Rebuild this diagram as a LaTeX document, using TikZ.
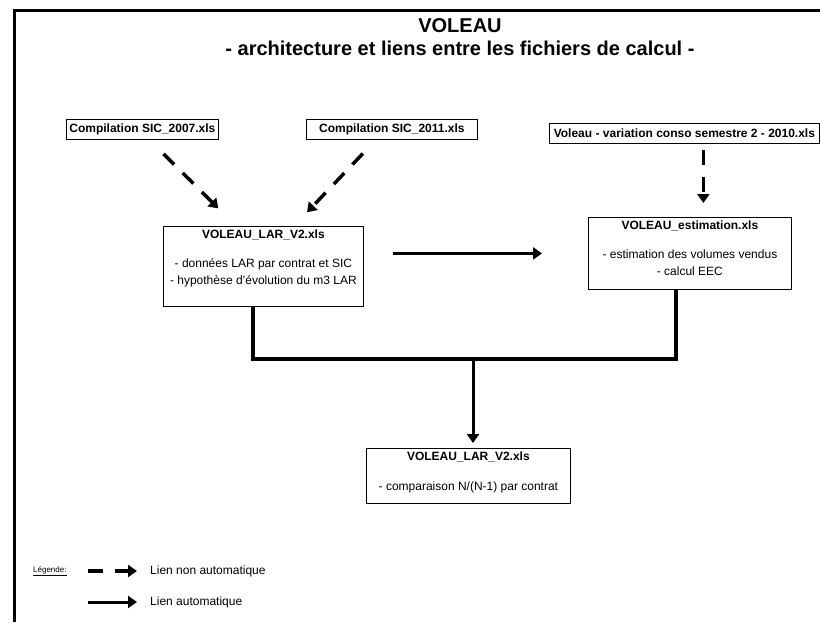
\documentclass[tikz,border=0pt]{standalone}
\usepackage{fontspec}
\setmainfont{Liberation Sans}
\usetikzlibrary{arrows.meta,positioning}
\tikzset{filebox/.style={draw, line width=0.8pt, inner sep=0pt, anchor=north west,
                         font=\fontsize{12}{17}\selectfont\bfseries},
        filetext/.style={anchor=north, inner sep=0pt, align=center,
                         font=\fontsize{12}{17}\selectfont},
        titletext/.style={font=\fontsize{20}{24}\selectfont\bfseries, inner sep=0pt},
        manuallink/.style={line width=3.5pt, dash pattern=on 15pt off 12pt,
                           -{Triangle[width=12pt,length=9pt]}},
        autolink/.style={line width=3pt, -{Triangle[width=12pt,length=9pt]}},
        joinline/.style={line width=4pt},
        legendtext/.style={anchor=west, inner sep=0pt, font=\fontsize{12}{14}\selectfont},
        }

\begin{document}
\begin{tikzpicture}[x=1pt,y=-1pt]
    \useasboundingbox (0,0) rectangle (820,622);
    \draw[line width=3.5pt] (14.5,622) -- (14.5,10.5) -- (820,10.5);

    \node[titletext] (title) at (460,26) {VOLEAU};
    \node[titletext] (subtitle) at (460,48) {- architecture et liens entre les fichiers de calcul -};

    \node[filebox, minimum width=152pt, minimum height=20pt] (sic07) at (66,119) {Compilation SIC\_2007.xls};
    \node[filebox, minimum width=171pt, minimum height=20pt] (sic11) at (306,119) {Compilation SIC\_2011.xls};
    \node[filebox, minimum width=270pt, minimum height=20pt] (conso) at (549,123) {Voleau - variation conso semestre 2 - 2010.xls};

    \node[filebox, minimum width=200pt, minimum height=80pt] (lar) at (163,226) {};
    \node[filetext, below=4pt of lar.north] (lartext) {\textbf{VOLEAU\_LAR\_V2.xls}\\[12pt]
        - données LAR par contrat et SIC\\- hypothèse d’évolution du m3 LAR};

    \node[filebox, minimum width=203pt, minimum height=72pt] (estim) at (588,217) {};
    \node[filetext, below=4pt of estim.north] (estimtext) {\textbf{VOLEAU\_estimation.xls}\\[12pt]
        - estimation des volumes vendus\\- calcul EEC};

    \node[filebox, minimum width=204pt, minimum height=55pt] (result) at (366,448) {};
    \node[filetext, below=4pt of result.north] (resulttext) {\textbf{VOLEAU\_LAR\_V2.xls}\\[13pt]
        - comparaison N/(N-1) par contrat};

    \draw[manuallink, shorten <=20pt, shorten >=25pt] ([xshift=7pt]sic07.south) -- ([xshift=73pt]lar.north west);
    \draw[manuallink, shorten <=19pt, shorten >=19pt] ([xshift=-16pt]sic11.south) -- ([xshift=131pt]lar.north west);
    \draw[manuallink, shorten <=6pt, shorten >=14pt] ([xshift=19pt]conso.south) -- ([xshift=13.5pt]estim.north);

    \draw[autolink, shorten <=29pt, shorten >=46pt] (lar.east |- estim.west) -- (estim.west);

    \coordinate (join) at (473,359);
    \draw[joinline] ([xshift=-10pt]lar.south) |- (join) -| ([xshift=-13.5pt]estim.south);
    \draw[autolink, shorten >=5pt] (join) -- (join |- result.north);

    \node[anchor=west, inner sep=0pt, font=\fontsize{8}{10}\selectfont] (legend) at (33,571) {\underline{Légende:}};
    \coordinate (manualstart) at (88,571);
    \coordinate (manualend) at (137,571);
    \draw[manuallink] (manualstart) -- (manualend);
    \node[legendtext] (manuallabel) at (150,571) {Lien non automatique};
    \coordinate (autostart) at (88,602);
    \coordinate (autoend) at (137,602);
    \draw[autolink] (autostart) -- (autoend);
    \node[legendtext] (autolabel) at (150,602) {Lien automatique};
\end{tikzpicture}
\end{document}
